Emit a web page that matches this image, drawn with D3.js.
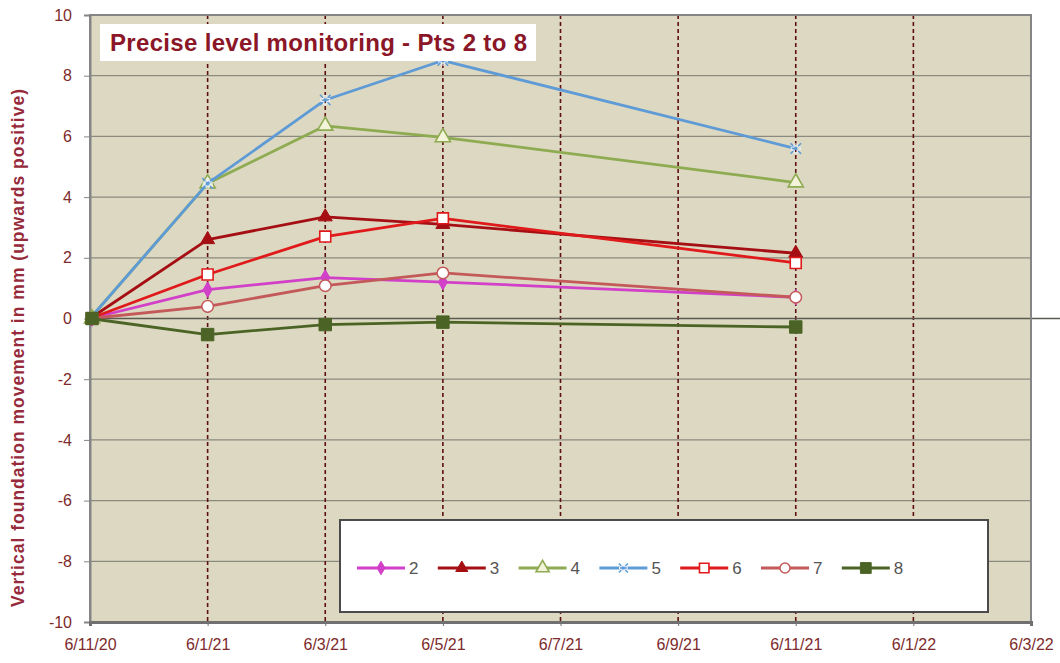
<!DOCTYPE html>
<html>
<head>
<meta charset="utf-8">
<script src="https://cdn.jsdelivr.net/npm/d3@7"></script>
<style>
  body { margin: 0; background: #fff; }
  svg { display: block; font-family: "Liberation Sans", Arial, sans-serif; }
</style>
</head>
<body>
<svg id="chart" width="1060" height="663"></svg>
<script>
// Survey dates (d/m/yy) and tick labels
const aDates = ['6/11/20', '6/1/21', '6/3/21', '6/5/21', '6/11/21'];
const aTickLabels = ['6/11/20', '6/1/21', '6/3/21', '6/5/21', '6/7/21', '6/9/21', '6/11/21', '6/1/22', '6/3/22'];
const aYTicks = [-10, -8, -6, -4, -2, 0, 2, 4, 6, 8, 10];

// Vertical movement (mm) per monitoring point
const aPt2 = [0, 0.95, 1.35, 1.2, 0.7];
const aPt3 = [0, 2.6, 3.35, 3.1, 2.15];
const aPt4 = [0, 4.45, 6.35, 5.97, 4.48];
const aPt5 = [0, 4.45, 7.2, 8.5, 5.6];
const aPt6 = [0, 1.45, 2.7, 3.3, 1.83];
const aPt7 = [0, 0.4, 1.08, 1.5, 0.7];
const aPt8 = [0, -0.53, -0.2, -0.12, -0.28];

const aSeries = [
  { sName: '2', aValues: aPt2, sColour: '#d23fc8', sMarker: 'diamond' },
  { sName: '3', aValues: aPt3, sColour: '#a50f14', sMarker: 'triangle' },
  { sName: '4', aValues: aPt4, sColour: '#8eab52', sMarker: 'triangleOpen' },
  { sName: '5', aValues: aPt5, sColour: '#5e9bd6', sMarker: 'star' },
  { sName: '6', aValues: aPt6, sColour: '#e0191b', sMarker: 'squareOpen' },
  { sName: '7', aValues: aPt7, sColour: '#c4595a', sMarker: 'circleOpen' },
  { sName: '8', aValues: aPt8, sColour: '#4b6426', sMarker: 'square' }
];

const jPlot = { l: 90, r: 1031, t: 15, b: 622 };
const parseDate = d3.timeParse('%d/%m/%y');
const oStart = parseDate(aTickLabels[0]);
// date axis uses months as base unit, so each month gets equal width
const fnMonth = d => d3.timeMonth.count(oStart, parseDate(d));

const x = d3.scaleLinear()
  .domain([0, fnMonth(aTickLabels[aTickLabels.length - 1])])
  .range([jPlot.l, jPlot.r]);
const y = d3.scaleLinear().domain([-10, 10]).range([jPlot.b, jPlot.t]);

const svg = d3.select('#chart');
const sTextColour = '#7d2b2b';

// Plot background
svg.append('rect')
  .attr('x', jPlot.l).attr('y', jPlot.t)
  .attr('width', jPlot.r - jPlot.l).attr('height', jPlot.b - jPlot.t)
  .attr('fill', '#dcd8c1');

// Horizontal gridlines
svg.append('g').selectAll('line')
  .data(aYTicks.filter(v => v !== 0))
  .join('line')
  .attr('x1', jPlot.l).attr('x2', jPlot.r)
  .attr('y1', d => y(d)).attr('y2', d => y(d))
  .attr('stroke', '#8c8a80').attr('stroke-width', 1.2);

// Vertical dashed lines at each date tick
svg.append('g').selectAll('line')
  .data(aTickLabels.slice(1, -1))
  .join('line')
  .attr('x1', d => x(fnMonth(d))).attr('x2', d => x(fnMonth(d)))
  .attr('y1', jPlot.t).attr('y2', jPlot.b)
  .attr('stroke', '#5e1010').attr('stroke-width', 1.6)
  .attr('stroke-dasharray', '4,3');

// Zero line (runs to the right edge)
svg.append('line')
  .attr('x1', jPlot.l).attr('x2', 1060)
  .attr('y1', y(0)).attr('y2', y(0))
  .attr('stroke', '#5a5a52').attr('stroke-width', 1.5);

// Frame
svg.append('rect')
  .attr('x', jPlot.l).attr('y', jPlot.t)
  .attr('width', jPlot.r - jPlot.l).attr('height', jPlot.b - jPlot.t)
  .attr('fill', 'none').attr('stroke', '#858585').attr('stroke-width', 2);

// Y axis
const oYAxis = svg.append('g')
  .attr('transform', `translate(${jPlot.l},0)`)
  .call(d3.axisLeft(y).tickValues(aYTicks).tickFormat(d => String(d)).tickSize(6).tickPadding(12));
oYAxis.select('.domain').attr('stroke', '#858585').attr('stroke-width', 2);
oYAxis.selectAll('.tick line').attr('stroke', '#858585');
oYAxis.selectAll('.tick text')
  .attr('font-size', 16).attr('fill', sTextColour)
  .attr('font-family', '"Liberation Sans", Arial, sans-serif');

// X axis
const oXAxis = svg.append('g')
  .attr('transform', `translate(0,${jPlot.b})`)
  .call(d3.axisBottom(x)
    .tickValues(aTickLabels.map(fnMonth))
    .tickFormat((d, i) => aTickLabels[i])
    .tickSize(4).tickPadding(13));
oXAxis.select('.domain').attr('stroke', '#707070').attr('stroke-width', 3);
oXAxis.selectAll('.tick line').attr('stroke', '#707070');
oXAxis.selectAll('.tick text')
  .attr('font-size', 16).attr('fill', sTextColour)
  .attr('font-family', '"Liberation Sans", Arial, sans-serif');

// Y axis title
svg.append('text')
  .attr('transform', 'translate(24,348) rotate(-90)')
  .attr('text-anchor', 'middle')
  .attr('font-size', 17.5).attr('font-weight', 'bold')
  .attr('fill', '#962a3a')
  .attr('textLength', 518).attr('lengthAdjust', 'spacing')
  .text('Vertical foundation movement in mm (upwards positive)');

// Marker drawing
const fnMarker = (oSel, jSeries, iScale = 1) => {
  const c = jSeries.sColour;
  switch (jSeries.sMarker) {
    case 'diamond':
      oSel.append('path').attr('d', d3.symbol(d3.symbolDiamond, 70 * iScale)())
        .attr('fill', c).attr('stroke', c);
      break;
    case 'triangle':
      oSel.append('path').attr('d', d3.symbol(d3.symbolTriangle, 85 * iScale)())
        .attr('fill', c).attr('stroke', c);
      break;
    case 'triangleOpen':
      oSel.append('path').attr('d', d3.symbol(d3.symbolTriangle, 100 * iScale)())
        .attr('fill', '#f3f3da').attr('stroke', c).attr('stroke-width', 1.6);
      break;
    case 'star':
      oSel.append('path').attr('d', d3.symbol(d3.symbolTimes, 75 * iScale)())
        .attr('fill', '#dce9f7').attr('stroke', c).attr('stroke-width', 1.5);
      oSel.append('path').attr('d', d3.symbol(d3.symbolCross, 45 * iScale)())
        .attr('fill', 'none').attr('stroke', '#eaf2fb').attr('stroke-width', 1);
      break;
    case 'squareOpen':
      oSel.append('path').attr('d', d3.symbol(d3.symbolSquare, 120 * iScale)())
        .attr('fill', '#fff').attr('stroke', c).attr('stroke-width', 1.6);
      break;
    case 'circleOpen':
      oSel.append('path').attr('d', d3.symbol(d3.symbolCircle, 105 * iScale)())
        .attr('fill', '#fff').attr('stroke', c).attr('stroke-width', 1.5);
      break;
    default:
      oSel.append('path').attr('d', d3.symbol(d3.symbolSquare, 155 * iScale)())
        .attr('fill', c).attr('stroke', c);
  }
};

// Series lines and markers
const fnLine = d3.line()
  .x((d, i) => x(fnMonth(aDates[i])))
  .y(d => y(d));

const oSeriesG = svg.append('g');
aSeries.forEach((jSeries) => {
  const oG = oSeriesG.append('g');
  oG.append('path')
    .attr('d', fnLine(jSeries.aValues))
    .attr('fill', 'none')
    .attr('stroke', jSeries.sColour)
    .attr('stroke-width', 2.8)
    .attr('stroke-linejoin', 'round');
  jSeries.aValues.forEach((v, i) => {
    const oM = oG.append('g')
      .attr('transform', `translate(${x(fnMonth(aDates[i])) + (i === 0 ? 2 : 0)},${y(v)})`);
    fnMarker(oM, jSeries);
  });
});

// Title box
svg.append('rect')
  .attr('x', 100).attr('y', 24).attr('width', 436).attr('height', 37)
  .attr('fill', '#fff');
svg.append('text')
  .attr('x', 110).attr('y', 51)
  .attr('font-size', 24).attr('font-weight', 'bold')
  .attr('fill', '#8a1627')
  .attr('textLength', 417).attr('lengthAdjust', 'spacing')
  .text('Precise level monitoring - Pts 2 to 8');

// Legend
const jLegend = { x: 340, y: 520, w: 648, h: 92 };
svg.append('rect')
  .attr('x', jLegend.x).attr('y', jLegend.y)
  .attr('width', jLegend.w).attr('height', jLegend.h)
  .attr('fill', '#fff').attr('stroke', '#4a4a4a').attr('stroke-width', 2);

const oLegendItems = svg.append('g').selectAll('g')
  .data(aSeries)
  .join('g')
  .attr('transform', (d, i) => `translate(${357 + i * 80.8},568)`);
oLegendItems.append('line')
  .attr('x1', 0).attr('x2', 48)
  .attr('stroke', d => d.sColour).attr('stroke-width', 2.8);
oLegendItems.each(function (d) {
  const oM = d3.select(this).append('g').attr('transform', 'translate(24,0)');
  fnMarker(oM, d, 0.75);
});
oLegendItems.append('text')
  .attr('x', 52).attr('y', 6)
  .attr('font-size', 17).attr('fill', '#555')
  .text(d => d.sName);
</script>
</body>
</html>
